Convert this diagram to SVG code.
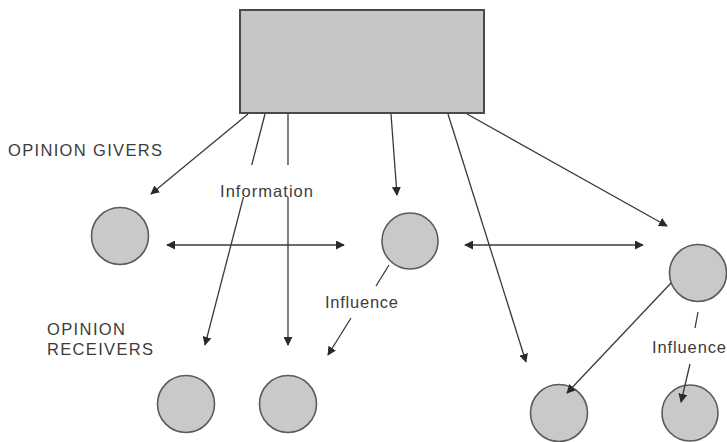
<svg xmlns="http://www.w3.org/2000/svg" width="727" height="442" viewBox="0 0 727 442">
<defs>
<style>
.node{fill:#c9c9c9;stroke:#5a5a5a;stroke-width:1.6}
.box{fill:#c6c6c6;stroke:#4a4a4a;stroke-width:2}
.ln{stroke:#3a3a3a;stroke-width:1.3;fill:none}
.lbl{font-family:"Liberation Sans",Arial,sans-serif;font-size:16.5px;fill:#3c3c3c}
.bg{fill:#ffffff}
</style>
<marker id="ah" viewBox="0 0 10 10" refX="9" refY="5" markerWidth="9" markerHeight="9" markerUnits="userSpaceOnUse" orient="auto-start-reverse">
<path d="M0,0 L10,5 L0,10 z" fill="#2a2a2a"/>
</marker>
</defs>
<rect width="727" height="442" fill="#ffffff"/>

<g id="source">
<rect class="box" x="240" y="10" width="244" height="103"/>
</g>

<g id="giver1"><circle class="node" cx="120" cy="236" r="28.5"/></g>
<g id="giver2"><circle class="node" cx="410" cy="241" r="28"/></g>
<g id="giver3"><circle class="node" cx="698" cy="273" r="28.5"/></g>
<g id="receiver1"><circle class="node" cx="186" cy="404" r="28.5"/></g>
<g id="receiver2"><circle class="node" cx="288" cy="404" r="28.5"/></g>
<g id="receiver3"><circle class="node" cx="559" cy="413" r="28.5"/></g>
<g id="receiver4"><circle class="node" cx="690" cy="413" r="28"/></g>

<g id="connectors">
<line class="ln" x1="248" y1="114" x2="151" y2="194" marker-end="url(#ah)"/>
<line class="ln" x1="265" y1="114" x2="205" y2="345" marker-end="url(#ah)"/>
<line class="ln" x1="288" y1="114" x2="288" y2="345" marker-end="url(#ah)"/>
<line class="ln" x1="391" y1="114" x2="397" y2="195" marker-end="url(#ah)"/>
<line class="ln" x1="448" y1="114" x2="526" y2="362" marker-end="url(#ah)"/>
<line class="ln" x1="467" y1="114" x2="667" y2="226" marker-end="url(#ah)"/>
<line class="ln" x1="167" y1="245" x2="344" y2="245" marker-start="url(#ah)" marker-end="url(#ah)"/>
<line class="ln" x1="465" y1="245" x2="643" y2="245" marker-start="url(#ah)" marker-end="url(#ah)"/>
<line class="ln" x1="389" y1="265" x2="376" y2="286"/>
<line class="ln" x1="351" y1="318" x2="328" y2="355" marker-end="url(#ah)"/>
<line class="ln" x1="671" y1="283" x2="567" y2="393" marker-end="url(#ah)"/>
<line class="ln" x1="698" y1="312" x2="695" y2="328"/>
<line class="ln" x1="690" y1="364" x2="681" y2="402" marker-end="url(#ah)"/>
</g>

<g id="labels">
<text class="lbl" x="8" y="156" textLength="154" lengthAdjust="spacing">OPINION GIVERS</text>
<rect class="bg" x="216" y="165" width="100" height="32"/>
<text class="lbl" x="220" y="197" textLength="93" lengthAdjust="spacing">Information</text>
<text class="lbl" x="325" y="308" textLength="73" lengthAdjust="spacing">Influence</text>
<text class="lbl" x="47" y="335" textLength="78" lengthAdjust="spacing">OPINION</text>
<text class="lbl" x="47" y="355" textLength="106" lengthAdjust="spacing">RECEIVERS</text>
<text class="lbl" x="652" y="353" textLength="74" lengthAdjust="spacing">Influence</text>
</g>
</svg>
